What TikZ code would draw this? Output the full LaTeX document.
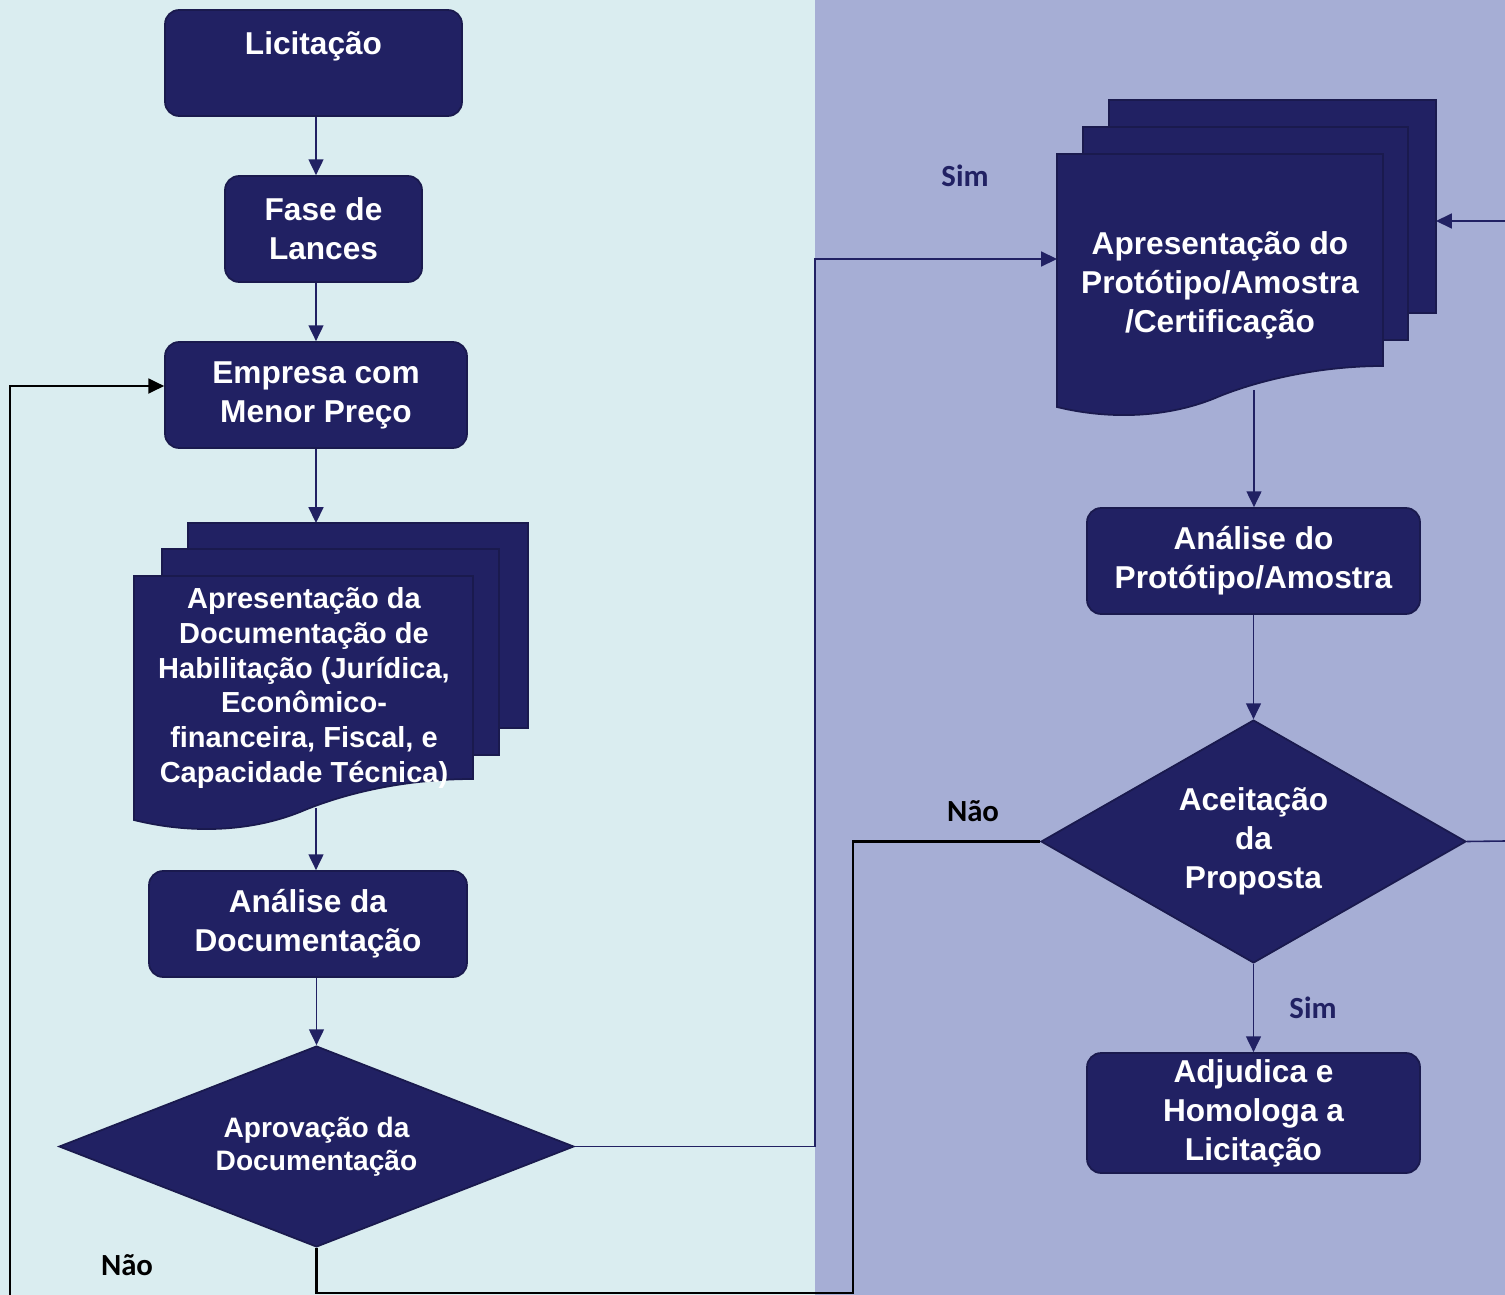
\documentclass[tikz,border=0pt]{standalone}
\usepackage{fontspec}
\setmainfont{Liberation Sans}
\newfontfamily\calibri{Carlito}
\usetikzlibrary{shapes.geometric,arrows.meta}
\definecolor{navy}{RGB}{33,33,99}
\definecolor{navyline}{RGB}{26,26,78}
\definecolor{paleblue}{RGB}{218,237,240}
\definecolor{lavender}{RGB}{166,174,213}
\tikzset{>={Triangle[length=9pt,width=8.5pt]}}
\tikzset{
  stepbox/.style={draw=navyline, fill=navy, line width=1pt, rounded corners=8pt,
    text=white, align=center, inner sep=0pt,
    font=\bfseries\fontsize{18}{22.2}\selectfont},
  choice/.style={diamond, draw=navyline, fill=navy, line width=1pt,
    text=white, align=center, inner sep=0pt},
  sheet/.style={draw=navyline, fill=navy, line width=1pt},
  flow/.style={draw=navy, line width=0.9pt},
  loopline/.style={draw=black, line width=1.2pt},
  answer/.style={font=\calibri\bfseries\fontsize{17.5}{21}\selectfont}
}

\begin{document}
\begin{tikzpicture}[x=0.02cm,y=-0.02cm]
    \useasboundingbox (0,0) rectangle (1505,1295);
    \fill[paleblue] (0,0) rectangle (815,1295);
    \fill[lavender] (815,0) rectangle (1505,1295);

    \node[stepbox, minimum width=5.94cm, minimum height=2.12cm] (lic) at (313.5,63) {Licitação\\\mbox{}};
    \node[stepbox, minimum width=3.94cm, minimum height=2.12cm] (fase) at (323.5,229) {Fase de\\Lances};
    \node[stepbox, minimum width=6.04cm, minimum height=2.12cm] (emp) at (316,395) {Empresa com\\Menor Preço};

    \draw[sheet] (188,523) rectangle (528,728);
    \draw[sheet] (162,549) rectangle (499,755);
    \draw[sheet] (134,576) -- (473,576) -- (473,779)
        .. controls (400,779) and (340,795) .. (300,812)
        .. controls (250,832) and (190,834) .. (134,820) -- cycle;
    \node[text=white, align=center, font=\bfseries\fontsize{16.5}{19.8}\selectfont] (docs) at (304,688)
        {Apresentação da\\Documentação de\\Habilitação (Jurídica,\\Econômico-\\financeira, Fiscal, e\\Capacidade Técnica)};
    \coordinate (docsTop) at (316,523);
    \coordinate (docsBot) at (316,808);

    \node[stepbox, minimum width=6.36cm, minimum height=2.12cm] (anDoc) at (308,924) {Análise da\\Documentação};
    \node[choice, aspect=2.56, minimum width=10.3cm, minimum height=4.02cm,
        font=\bfseries\fontsize{16}{18.7}\selectfont] (aprov) at (316.5,1146.5) {Aprovação da\\Documentação};

    \draw[sheet] (1109,100) rectangle (1436,313);
    \draw[sheet] (1083,127) rectangle (1408,340);
    \draw[sheet] (1057,154) -- (1383,154) -- (1383,366)
        .. controls (1320,366) and (1260,380) .. (1220,396)
        .. controls (1170,418) and (1110,420) .. (1057,407) -- cycle;
    \node[text=white, align=center, font=\bfseries\fontsize{18}{22.2}\selectfont] (proto) at (1220,285)
        {Apresentação do\\Protótipo/Amostra\\/Certificação};
    \coordinate (protoW) at (1057,259);
    \coordinate (protoE) at (1436,221);
    \coordinate (protoBot) at (1254,390);

    \node[stepbox, minimum width=6.66cm, minimum height=2.12cm] (anProto) at (1253.5,561) {Análise do\\Protótipo/Amostra};
    \node[choice, aspect=1.75, minimum width=8.5cm, minimum height=4.86cm,
        font=\bfseries\fontsize{18}{22.2}\selectfont] (acei) at (1253.5,841.5) {Aceitação\\da\\Proposta};
    \node[stepbox, minimum width=6.66cm, minimum height=2.4cm] (adj) at (1253.5,1113) {Adjudica e\\Homologa a\\Licitação};

    \node[answer, text=navy] (sim1) at (965,176) {Sim};
    \node[answer] (nao1) at (973,811) {Não};
    \node[answer, text=navy] (sim2) at (1313,1008) {Sim};
    \node[answer] (nao2) at (127,1265) {Não};

    \coordinate (turnA) at (815,259);
    \coordinate (turnB) at (853,1293);
    \coordinate (loopL) at (10,1295);
    \coordinate (feedR) at (1505,221);
    \coordinate (exitR) at (1505,841);

    \draw[flow,->] (lic.south -| emp) -- (fase.north -| emp);
    \draw[flow,->] (fase.south -| emp) -- (emp);
    \draw[flow,->] (emp) -- (docsTop);
    \draw[flow,->] (docsBot) -- (anDoc.north -| docsBot);
    \draw[flow,->] (anDoc.south -| aprov) -- (aprov);
    \draw[flow,->] (aprov.east) -| (turnA) -- (protoW);
    \draw[flow,->] (feedR) -- (protoE);
    \draw[flow,->] (protoBot) -- (anProto.north -| protoBot);
    \draw[flow,->] (anProto) -- (acei);
    \draw[flow,->] (acei) -- (adj);
    \draw[flow] (acei.east) -- (exitR);
    \draw[loopline] (aprov.south) |- (turnB) |- (acei.west);
    \draw[loopline,->] (loopL) |- ([yshift=0.18cm]emp.west);
\end{tikzpicture}
\end{document}
